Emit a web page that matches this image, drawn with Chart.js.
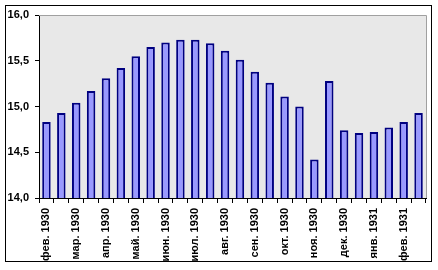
<!DOCTYPE html>
<html>
<head>
<meta charset="utf-8">
<script src="https://cdn.jsdelivr.net/npm/chart.js@4/dist/chart.umd.min.js"></script>
<style>
  html, body { margin: 0; padding: 0; background: #fff; }
  #wrap { width: 438px; height: 270px; }
</style>
</head>
<body>
<div id="wrap"><canvas id="chart" width="438" height="270"></canvas></div>
<script>
// half-month points, Feb 1930 - Feb 1931 (every month appears twice)
const months = ["фев. 1930", "мар. 1930", "апр. 1930", "май. 1930", "июн. 1930", "июл. 1930",
  "авг. 1930", "сен. 1930", "окт. 1930", "ноя. 1930", "дек. 1930", "янв. 1931", "фев. 1931"];
const categories = [];
months.forEach(m => { categories.push(m); categories.push(m); });

const values = [14.83, 14.93, 15.04, 15.17, 15.31, 15.42, 15.55, 15.65, 15.70, 15.73, 15.73, 15.69,
  15.61, 15.51, 15.38, 15.26, 15.11, 15.00, 14.42, 15.28, 14.74, 14.71, 14.72, 14.77, 14.83, 14.93];

const yTicks = [14.0, 14.5, 15.0, 15.5, 16.0];

const font = { family: "'Liberation Sans', Arial, sans-serif", size: 11, weight: "bold" };

// white page, grey plot area, outer frame
const framePlugin = {
  id: "frame",
  beforeDraw(chart) {
    const ctx = chart.ctx, a = chart.chartArea;
    ctx.save();
    ctx.fillStyle = "#fff";
    ctx.fillRect(0, 0, chart.width, chart.height);
    ctx.fillStyle = "#e8e8e8";
    ctx.fillRect(a.left, a.top, a.right - a.left, a.bottom - a.top);
    ctx.strokeStyle = "#000";
    ctx.lineWidth = 1;
    ctx.strokeRect(5.5, 5.5, 426, 256);
    ctx.restore();
  },
  beforeDatasetsDraw(chart) {
    const ctx = chart.ctx, a = chart.chartArea;
    ctx.save();
    ctx.strokeStyle = "#a0a0a0";
    ctx.lineWidth = 1;
    ctx.beginPath();
    ctx.moveTo(a.left, Math.round(a.top) + 0.5);
    ctx.lineTo(Math.round(a.right) + 0.5, Math.round(a.top) + 0.5);
    ctx.lineTo(Math.round(a.right) + 0.5, a.bottom);
    ctx.stroke();
    ctx.restore();
  }
};

new Chart(document.getElementById("chart"), {
  type: "bar",
  data: {
    labels: categories,
    datasets: [{
      data: values,
      backgroundColor: "#9999ff",
      borderColor: "#000080",
      borderWidth: 2,
      barPercentage: 0.57,
      categoryPercentage: 1
    }]
  },
  options: {
    responsive: false,
    animation: false,
    layout: { padding: { top: 15, right: 12, left: 0, bottom: 0 } },
    plugins: { legend: { display: false }, tooltip: { enabled: false } },
    scales: {
      x: {
        offset: true,
        afterFit: s => { s.height = 72; },
        grid: { display: true, offset: true, drawOnChartArea: false, drawTicks: true, tickLength: 5, color: "#000" },
        border: { display: true, color: "#000", width: 1 },
        ticks: {
          autoSkip: false, maxRotation: 90, minRotation: 90, padding: 5,
          color: "#000", font: font,
          callback: (v, i) => i % 2 === 0 ? categories[i] : ""
        }
      },
      y: {
        min: yTicks[0], max: yTicks[yTicks.length - 1],
        afterFit: s => { s.width = 39; },
        afterBuildTicks: s => { s.ticks = yTicks.map(v => ({ value: v })); },
        grid: { display: true, drawOnChartArea: false, drawTicks: true, tickLength: 4, color: "#000" },
        border: { display: true, color: "#000", width: 1 },
        ticks: {
          padding: 6, color: "#000", font: font,
          callback: v => v.toFixed(1).replace(".", ",")
        }
      }
    }
  },
  plugins: [framePlugin]
});
</script>
</body>
</html>
